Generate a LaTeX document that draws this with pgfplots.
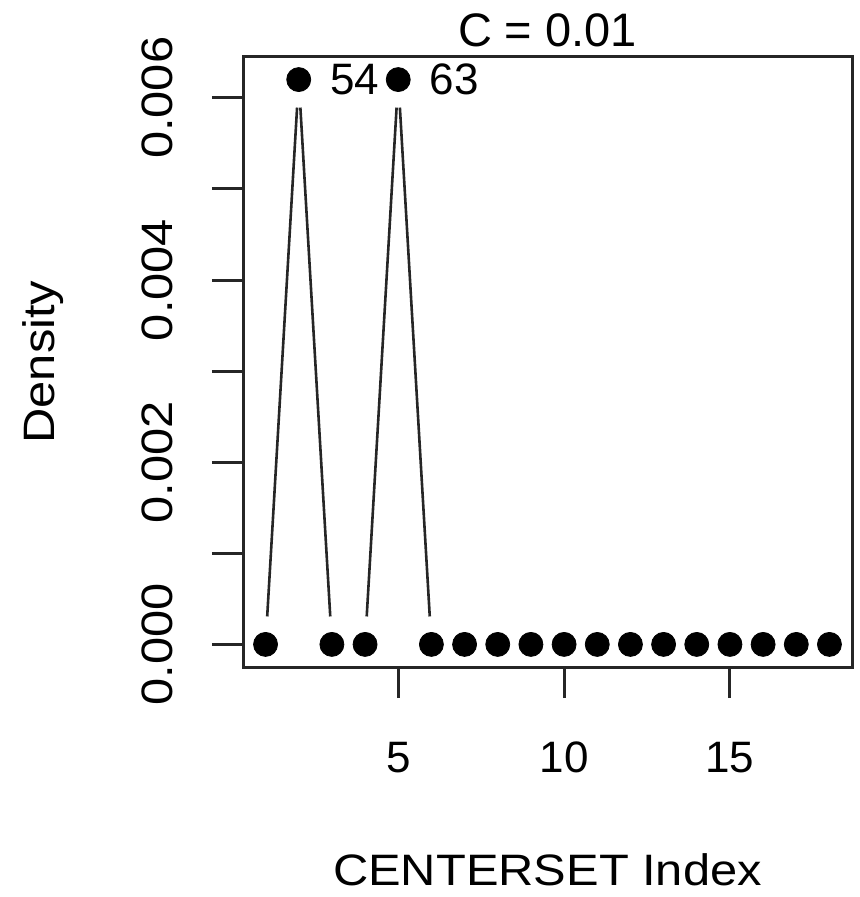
\documentclass[border=0pt]{standalone}
\usepackage{pgfplots}
\pgfplotsset{compat=1.18}
\usepackage{fontspec}
\setmainfont{Liberation Sans}
\newfontfamily\widefont{Liberation Sans}[FakeStretch=1.11]
\begin{document}
\begin{tikzpicture}
\begin{axis}[
  scale only axis, width=304.5pt, height=305pt,
  xmin=0.32, xmax=18.68, ymin=-0.000248, ymax=0.006448,
  axis line style={line width=1.5pt, black!85},
  xtick={5,10,15}, ytick={0,0.002,0.004,0.006}, minor ytick={0.001,0.003,0.005},
  tick align=outside, xtick pos=left, ytick pos=left,
  major tick length=15.5pt, minor tick length=15.5pt,
  tick style={line width=1.5pt, black!85},
  /pgf/number format/assume math mode=true,
  scaled y ticks=false,
  yticklabel style={/pgf/number format/fixed, /pgf/number format/fixed zerofill, /pgf/number format/precision=3, rotate=90, anchor=base, inner sep=0pt, font=\widefont\fontsize{22}{26}\selectfont},
  yticklabel shift=19.5pt,
  xticklabel style={anchor=base, inner sep=0pt, font=\fontsize{22}{26}\selectfont},
  xticklabel shift=37pt,
  every axis title shift=0pt,
  title={C = 0.01},
  title style={at={(axis description cs:0.5,1.018)}, anchor=base, font=\fontsize{23.5}{28}\selectfont, inner sep=0pt},
  xlabel={CENTERSET Index},
  xlabel style={at={(axis description cs:0.5,-0.3574)}, anchor=base, font=\widefont\fontsize{22}{26}\selectfont, inner sep=0pt},
  ylabel={Density},
  ylabel style={at={(axis description cs:-0.3087,0.5)}, rotate=0, anchor=base, font=\widefont\fontsize{22}{26}\selectfont, inner sep=0pt},
]
\addplot[black!85, line width=1.3pt, shorten >=14pt, shorten <=14pt] coordinates {(1,0) (2,0.0062)};
\addplot[black!85, line width=1.3pt, shorten >=14pt, shorten <=14pt] coordinates {(2,0.0062) (3,0)};
\addplot[black!85, line width=1.3pt, shorten >=14pt, shorten <=14pt] coordinates {(4,0) (5,0.0062)};
\addplot[black!85, line width=1.3pt, shorten >=14pt, shorten <=14pt] coordinates {(5,0.0062) (6,0)};
\addplot[only marks, mark=*, mark size=6pt, black] coordinates {
 (1,0) (2,0.0062) (3,0) (4,0) (5,0.0062) (6,0) (7,0) (8,0) (9,0)
 (10,0) (11,0) (12,0) (13,0) (14,0) (15,0) (16,0) (17,0) (18,0)};
\addplot[draw=none, mark=none, nodes near coords, point meta=explicit symbolic,
  nodes near coords style={anchor=west, inner sep=0pt, xshift=15.5pt, font=\fontsize{22}{26}\selectfont}]
  coordinates {(2,0.0062) [54] (5,0.0062) [63]};
\end{axis}
\pgfresetboundingbox
\path (current axis.south west) ++(-121.5pt,-115pt) rectangle ++(429.5pt,448.5pt);
\end{tikzpicture}
\end{document}
